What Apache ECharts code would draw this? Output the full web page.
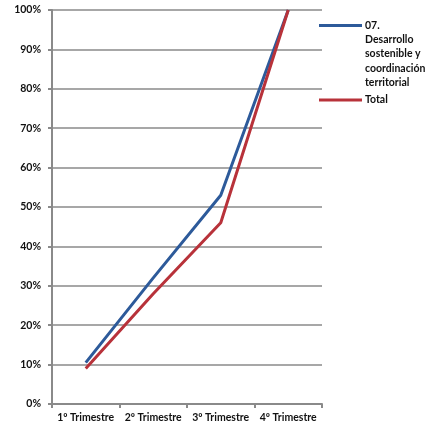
<!DOCTYPE html>
<html><head><meta charset="utf-8">
<script src="https://cdn.jsdelivr.net/npm/echarts@6/dist/echarts.min.js"></script>
<style>html,body{margin:0;padding:0;background:#fff}#c{width:432px;height:430px}</style>
</head><body><div id="c"></div>
<script>
const categories = ['1º Trimestre', '2º Trimestre', '3º Trimestre', '4º Trimestre'];
const seriesNames = ['07.\nDesarrollo\nsostenible y\ncoordinación\nterritorial', 'Total'];
const desarrollo = [10.5, 32, 53, 100];
const total = [9, 28, 46, 100];
const yTicks = [0, 10, 20, 30, 40, 50, 60, 70, 80, 90, 100];

const chart = echarts.init(document.getElementById('c'), null, {renderer: 'canvas'});
const font = 'Lato, "Open Sans", sans-serif';
const LH = 14.3;
chart.setOption({
  animation: false,
  grid: {left: 52, top: 10, width: 270, height: 394, containLabel: false},
  legend: {
    orient: 'vertical', left: 319, top: 25.5 - 4.5 * LH, itemWidth: 43, itemHeight: 12, itemGap: 3,
    padding: 0,
    formatter: name => {
      const n = name.split('\n').length;
      return '\n'.repeat(n - 1) + name;
    },
    textStyle: {fontFamily: font, fontWeight: 'bold', fontSize: 10.5, color: '#111', lineHeight: LH, padding: [0, 0, 0, -2]},
    data: [
      {name: seriesNames[0], icon: 'path://M0,0L43,0L43,3L0,3Z'},
      {name: seriesNames[1], icon: 'path://M0,0L43,0L43,3L0,3Z'}
    ]
  },
  xAxis: {
    type: 'category', data: categories, boundaryGap: true,
    axisLine: {lineStyle: {color: '#8a8a8a', width: 2}},
    axisTick: {show: true, length: 4, lineStyle: {color: '#8a8a8a', width: 2}},
    axisLabel: {fontFamily: font, fontWeight: 'bold', fontSize: 10.5, color: '#111', margin: 8, interval: 0}
  },
  yAxis: {
    type: 'value', min: 0, max: 100, interval: 10,
    axisLine: {show: true, lineStyle: {color: '#8a8a8a', width: 2}},
    axisTick: {show: true, length: 4, lineStyle: {color: '#8a8a8a', width: 2}},
    splitLine: {lineStyle: {color: '#8a8a8a', width: 1.5}},
    axisLabel: {fontFamily: font, fontWeight: 'bold', fontSize: 10.5, color: '#111', margin: 11,
      formatter: v => yTicks.includes(v) ? v + '%' : ''}
  },
  series: [
    {name: seriesNames[0], type: 'line', data: desarrollo, symbol: 'none', lineStyle: {color: '#2d5a9a', width: 3}, itemStyle: {color: '#2d5a9a'}},
    {name: seriesNames[1], type: 'line', data: total, symbol: 'none', lineStyle: {color: '#b8323a', width: 3}, itemStyle: {color: '#b8323a'}}
  ]
});
</script></body></html>
